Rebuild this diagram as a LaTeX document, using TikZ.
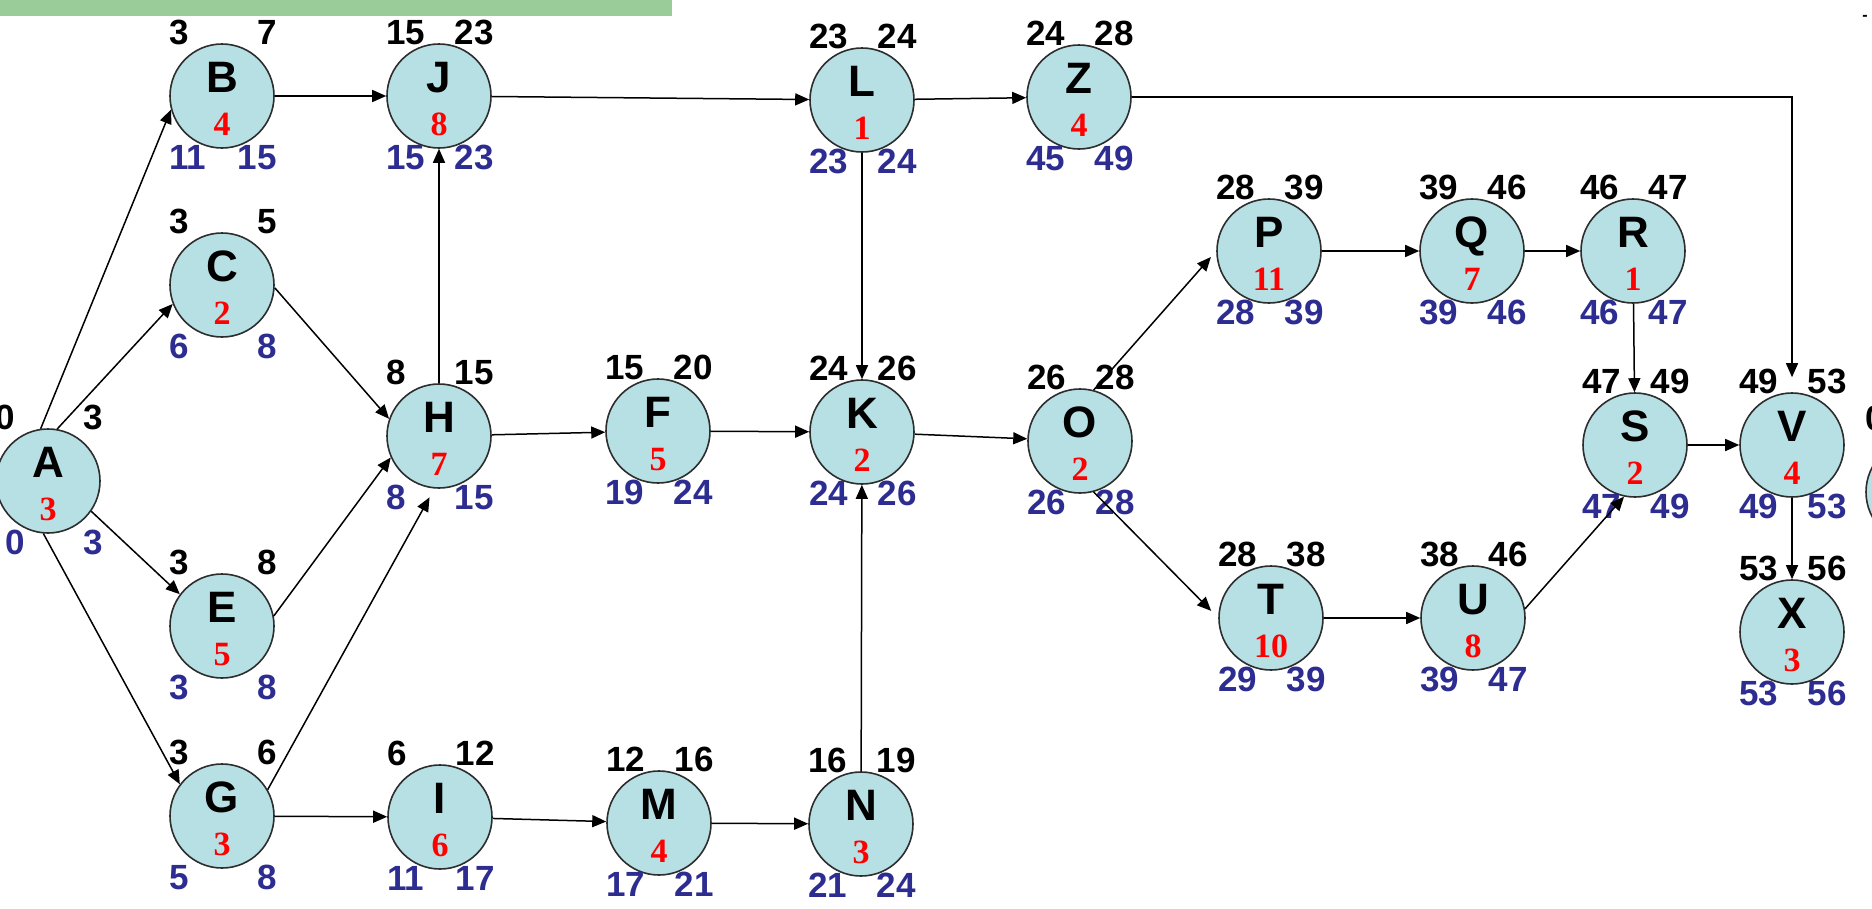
\documentclass[tikz,border=0pt]{standalone}
\usepackage{fontspec}
\setmainfont{Liberation Sans}
\newfontfamily\durfont{Liberation Serif}
\usetikzlibrary{arrows.meta}

\definecolor{nodefill}{RGB}{183,224,228}
\definecolor{nodeline}{RGB}{45,45,45}
\definecolor{latecol}{RGB}{45,45,145}
\definecolor{durcol}{RGB}{255,0,0}
\definecolor{barcol}{RGB}{153,204,153}

\tikzset{
  act/.style={circle, draw=nodeline, line width=1.6pt, fill=nodefill,
              minimum size=104pt, inner sep=0pt},
  actname/.style={anchor=base, inner sep=0pt,
                  font=\fontsize{44}{48}\selectfont\bfseries},
  actdur/.style={anchor=base, inner sep=0pt, text=durcol,
                 font=\durfont\fontsize{34}{38}\selectfont\bfseries},
  early/.style={inner sep=0pt, font=\fontsize{35}{40}\selectfont\bfseries},
  late/.style={early, text=latecol},
  link/.style={line width=1.5pt, -{Triangle[length=14pt,width=12pt]}},
}

% circle with its letter and duration
\newcommand\actcore[5]{%
  \node[act] (#1) at (#2,#3) {};
  \node[actname] (#1-id) at (#2,#3-4) {#4};
  \node[actdur] (#1-dur) at (#2,#3+39) {#5};
}
% activity: name, x, y, letter, duration, ES, EF, LS, LF
\newcommand\activity[9]{%
  \actcore{#1}{#2}{#3}{#4}{#5}
  \node[early, anchor=base west] (#1-es) at (#2-53,#3-52) {#6};
  \node[early, anchor=base east] (#1-ef) at (#2+55,#3-52) {#7};
  \node[late, anchor=base west] (#1-ls) at (#2-53,#3+73) {#8};
  \node[late, anchor=base east] (#1-lf) at (#2+55,#3+73) {#9};
}

\begin{document}
\begin{tikzpicture}[x=1pt, y=-1pt]
\useasboundingbox (0,0) rectangle (1872,908);
\fill[white] (0,0) rectangle (1872,908);

% header strip
\fill[barcol] (0,0) rectangle (672,16);

% start activity at the left edge
\actcore{A}{48}{481}{A}{3}
\node[early, anchor=base west] (A-es) at (-5,429) {0};
\node[early, anchor=base east] (A-ef) at (103,429) {3};
\node[late, anchor=base west] (A-ls) at (5,554) {0};
\node[late, anchor=base east] (A-lf) at (103,554) {3};

% activities
\activity{B}{222}{96}{B}{4}{3}{7}{11}{15}
\activity{C}{222}{285}{C}{2}{3}{5}{6}{8}
\activity{E}{222}{626}{E}{5}{3}{8}{3}{8}
\activity{G}{222}{816}{G}{3}{3}{6}{5}{8}
\activity{J}{439}{96}{J}{8}{15}{23}{15}{23}
\activity{H}{439}{436}{H}{7}{8}{15}{8}{15}
\activity{I}{440}{817}{I}{6}{6}{12}{11}{17}
\activity{F}{658}{431}{F}{5}{15}{20}{19}{24}
\activity{M}{659}{823}{M}{4}{12}{16}{17}{21}
\activity{L}{862}{100}{L}{1}{23}{24}{23}{24}
\activity{K}{862}{432}{K}{2}{24}{26}{24}{26}
\activity{N}{861}{824}{N}{3}{16}{19}{21}{24}
\activity{Z}{1079}{97}{Z}{4}{24}{28}{45}{49}
\activity{O}{1080}{441}{O}{2}{26}{28}{26}{28}
\activity{P}{1269}{251}{P}{11}{28}{39}{28}{39}
\activity{Q}{1472}{251}{Q}{7}{39}{46}{39}{46}
\activity{R}{1633}{251}{R}{1}{46}{47}{46}{47}
\activity{T}{1271}{618}{T}{10}{28}{38}{29}{39}
\activity{U}{1473}{618}{U}{8}{38}{46}{39}{47}
\activity{S}{1635}{445}{S}{2}{47}{49}{47}{49}
\activity{V}{1792}{445}{V}{4}{49}{53}{49}{53}
\activity{X}{1792}{632}{X}{3}{53}{56}{53}{56}

% next activity, running off the right edge
\node[act] (W) at (1918,492) {};
\node[early, anchor=base west] (W-es) at (1865,430) {0};
\node[inner sep=0pt, font=\fontsize{16}{16}\selectfont\bfseries] (mark) at (1865,18) {-};

% precedence links
\draw[link] (A.98) -- (B.195);
\draw[link] (A.80) -- (C.201);
\draw[link] (A.-35) -- (E.143);
\draw[link] (A.-95) -- (G.143);
\draw[link] (B) -- (J);
\draw[link] (C.-3) -- (H.161);
\draw[link] (E.11) -- (H.204);
\draw[link, shorten >=10pt] (G.30) -- (H.265);
\draw[link] (G) -- (I);
\draw[link] (H) -- (J);
\draw[link] (H) -- (F);
\draw[link] (I) -- (M);
\draw[link] (M) -- (N);
\draw[link] (N) -- (K);
\draw[link] (J) -- (L);
\draw[link] (L) -- (Z);
\draw[link] (L) -- (K);
\draw[link] (F) -- (K);
\draw[link] (K) -- (O);
\draw[link, shorten >=15pt] (Z) -| (V);
\draw[link, shorten >=8pt] (O.75) -- (P.west);
\draw[link, shorten >=10pt] (O.-75) -- (T.west);
\draw[link] (P) -- (Q);
\draw[link] (Q) -- (R);
\draw[link] (R) -- (S);
\draw[link] (T) -- (U);
\draw[link] (U.10) -- (S.258);
\draw[link] (S) -- (V);
\draw[link] (V) -- (X);
\end{tikzpicture}
\end{document}
